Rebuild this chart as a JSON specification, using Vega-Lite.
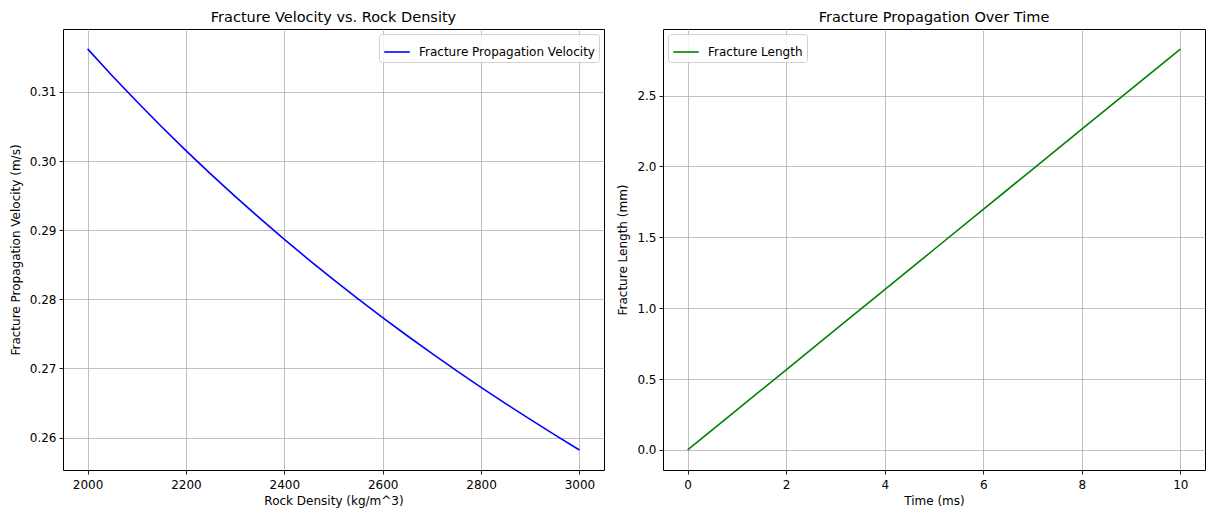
{
  "$schema": "https://vega.github.io/schema/vega-lite/v6.json",
  "padding": {"left": 8, "top": 9, "right": 2, "bottom": 2},
  "background": "white",
  "spacing": 11,
  "config": {
    "font": "DejaVu Sans",
    "view": {"stroke": "black", "strokeWidth": 1},
    "axis": {
      "domain": false,
      "grid": true,
      "gridColor": "#b0b0b0",
      "gridWidth": 0.8,
      "tickColor": "black",
      "tickSize": 4,
      "tickWidth": 0.9,
      "labelColor": "black",
      "labelFont": "DejaVu Sans",
      "labelFontSize": 12,
      "labelPadding": 3,
      "titleFont": "DejaVu Sans",
      "titleFontSize": 12,
      "titleFontWeight": "normal",
      "titleColor": "black"
    },
    "axisY": {"titlePadding": 7},
    "axisX": {"titlePadding": 5, "labelPadding": 5},
    "title": {"font": "DejaVu Sans", "fontSize": 14.5, "fontWeight": "normal", "color": "black", "offset": 4},
    "legend": {
      "title": null,
      "fillColor": "rgba(255,255,255,0.8)",
      "strokeColor": "#d0d0d0",
      "cornerRadius": 3,
      "padding": 4,
      "offset": 5,
      "labelFont": "DejaVu Sans",
      "labelFontSize": 12,
      "labelColor": "black",
      "labelLimit": 400,
      "symbolType": "stroke",
      "symbolStrokeWidth": 1.6,
      "symbolSize": 650,
      "labelOffset": 8
    }
  },
  "datasets": {
    "velocity": [
      {"density": 2000, "velocity": 0.316228},
      {"density": 2050, "velocity": 0.312348},
      {"density": 2100, "velocity": 0.308607},
      {"density": 2150, "velocity": 0.304997},
      {"density": 2200, "velocity": 0.301511},
      {"density": 2250, "velocity": 0.298142},
      {"density": 2300, "velocity": 0.294884},
      {"density": 2350, "velocity": 0.29173},
      {"density": 2400, "velocity": 0.288675},
      {"density": 2450, "velocity": 0.285714},
      {"density": 2500, "velocity": 0.282843},
      {"density": 2550, "velocity": 0.280056},
      {"density": 2600, "velocity": 0.27735},
      {"density": 2650, "velocity": 0.274721},
      {"density": 2700, "velocity": 0.272166},
      {"density": 2750, "velocity": 0.26968},
      {"density": 2800, "velocity": 0.267261},
      {"density": 2850, "velocity": 0.264906},
      {"density": 2900, "velocity": 0.262613},
      {"density": 2950, "velocity": 0.260378},
      {"density": 3000, "velocity": 0.258199}
    ],
    "length": [
      {"time": 0, "length": 0},
      {"time": 1, "length": 0.28284},
      {"time": 2, "length": 0.56569},
      {"time": 3, "length": 0.84853},
      {"time": 4, "length": 1.13137},
      {"time": 5, "length": 1.41421},
      {"time": 6, "length": 1.69706},
      {"time": 7, "length": 1.9799},
      {"time": 8, "length": 2.26274},
      {"time": 9, "length": 2.54558},
      {"time": 10, "length": 2.82843}
    ]
  },
  "hconcat": [
    {
      "width": 541,
      "height": 441,
      "title": "Fracture Velocity vs. Rock Density",
      "data": {"name": "velocity"},
      "transform": [{"calculate": "'Fracture Propagation Velocity'", "as": "series"}],
      "mark": {"type": "line", "strokeWidth": 1.6, "clip": true},
      "encoding": {
        "x": {
          "field": "density", "type": "quantitative",
          "scale": {"domain": [1950, 3050], "nice": false, "zero": false},
          "axis": {"values": [2000, 2200, 2400, 2600, 2800, 3000], "title": "Rock Density (kg/m^3)", "format": "d"}
        },
        "y": {
          "field": "velocity", "type": "quantitative",
          "scale": {"domain": [0.2553, 0.3191], "nice": false, "zero": false},
          "axis": {"values": [0.26, 0.27, 0.28, 0.29, 0.3, 0.31], "format": ".2f", "title": "Fracture Propagation Velocity (m/s)"}
        },
        "color": {
          "field": "series", "type": "nominal",
          "scale": {"domain": ["Fracture Propagation Velocity"], "range": ["#0000ff"]},
          "legend": {"orient": "top-right"}
        }
      }
    },
    {
      "width": 542,
      "height": 441,
      "title": "Fracture Propagation Over Time",
      "data": {"name": "length"},
      "transform": [{"calculate": "'Fracture Length'", "as": "series"}],
      "mark": {"type": "line", "strokeWidth": 1.6, "clip": true},
      "encoding": {
        "x": {
          "field": "time", "type": "quantitative",
          "scale": {"domain": [-0.5, 10.5], "nice": false, "zero": false},
          "axis": {"values": [0, 2, 4, 6, 8, 10], "title": "Time (ms)", "format": "d"}
        },
        "y": {
          "field": "length", "type": "quantitative",
          "scale": {"domain": [-0.1414, 2.9698], "nice": false, "zero": false},
          "axis": {"values": [0, 0.5, 1, 1.5, 2, 2.5], "format": ".1f", "title": "Fracture Length (mm)"}
        },
        "color": {
          "field": "series", "type": "nominal",
          "scale": {"domain": ["Fracture Length"], "range": ["#008000"]},
          "legend": {"orient": "top-left"}
        }
      }
    }
  ],
  "resolve": {"scale": {"color": "independent"}, "legend": {"color": "independent"}}
}
